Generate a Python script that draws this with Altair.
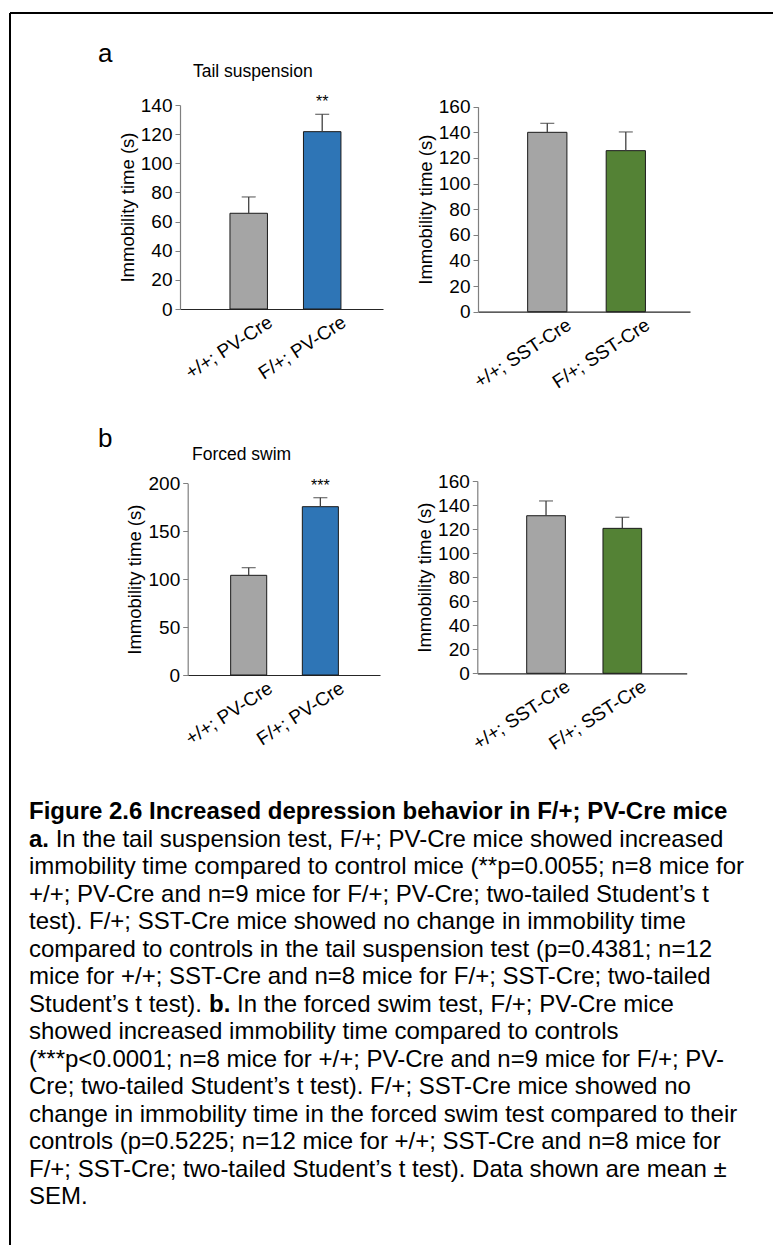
import altair as alt
import pandas as pd

FONT = "Liberation Sans"
W, H = 763, 1232  # plot area (view) size; padding puts origin at (10, 13)

# ---------------- data ----------------
tail_pv_groups = ["+/+; PV-Cre", "F/+; PV-Cre"]
tail_pv_mean = [65.7, 121.7]
tail_pv_sem = [11.2, 11.9]
tail_pv_sig = ["", "**"]
tail_pv_ticks = [0, 20, 40, 60, 80, 100, 120, 140]

tail_sst_groups = ["+/+; SST-Cre", "F/+; SST-Cre"]
tail_sst_mean = [140.0, 125.7]
tail_sst_sem = [7.0, 14.6]
tail_sst_sig = ["", ""]
tail_sst_ticks = [0, 20, 40, 60, 80, 100, 120, 140, 160]

swim_pv_groups = ["+/+; PV-Cre", "F/+; PV-Cre"]
swim_pv_mean = [104.0, 175.6]
swim_pv_sem = [8.0, 9.4]
swim_pv_sig = ["", "***"]
swim_pv_ticks = [0, 50, 100, 150, 200]

swim_sst_groups = ["+/+; SST-Cre", "F/+; SST-Cre"]
swim_sst_mean = [131.1, 120.6]
swim_sst_sem = [12.3, 9.2]
swim_sst_sig = ["", ""]
swim_sst_ticks = [0, 20, 40, 60, 80, 100, 120, 140, 160]

GRAY, BLUE, GREEN = "#A5A5A5", "#2E75B6", "#548235"

caption_lines = [
    "Figure 2.6 Increased depression behavior in F/+; PV-Cre mice",
    "In the tail suspension test, F/+; PV-Cre mice showed increased",
    "immobility time compared to control mice (**p=0.0055; n=8 mice for",
    "+/+; PV-Cre and n=9 mice for F/+; PV-Cre; two-tailed Student\u2019s t",
    "test). F/+; SST-Cre mice showed no change in immobility time",
    "compared to controls in the tail suspension test (p=0.4381; n=12",
    "mice for +/+; SST-Cre and n=8 mice for F/+; SST-Cre; two-tailed",
    "Student\u2019s t test).",
    "showed increased immobility time compared to controls",
    "(***p<0.0001; n=8 mice for +/+; PV-Cre and n=9 mice for F/+; PV-",
    "Cre; two-tailed Student\u2019s t test). F/+; SST-Cre mice showed no",
    "change in immobility time in the forced swim test compared to their",
    "controls (p=0.5225; n=12 mice for +/+; SST-Cre and n=8 mice for",
    "F/+; SST-Cre; two-tailed Student\u2019s t test). Data shown are mean \u00b1",
    "SEM.",
]
caption_extra = "In the forced swim test, F/+; PV-Cre mice"  # rest of line 7 after bold "b."

# ---------------- style / layout ----------------
AXIS_Y = dict(labelFontSize=19, labelColor="black", labelFont=FONT, tickSize=5,
              tickColor="#7F7F7F", domainColor="#7F7F7F", domainWidth=1.2,
              titleFontSize=18.5, titleFontWeight="normal", titleColor="black",
              titleFont=FONT, titlePadding=3, labelPadding=3, grid=False, format="d")
AXIS_X = dict(labelFontSize=19, labelColor="black", labelFont=FONT, labelAngle=-33,
              labelAlign="right", labelBaseline="middle", labelOffset=22,
              labelPadding=11, ticks=False, domainColor="#262626",
              domainWidth=1.2, grid=False, title=None, labelOverlap=False)


def panel(groups, means, sems, sig, fills, yticks, xr, yr, band):
    df = pd.DataFrame({
        "group": groups,
        "mean": means,
        "top": [m + s for m, s in zip(means, sems)],
        "sig": sig,
        "fill": fills,
    })

    def xsc():
        return alt.Scale(type="band", domain=groups, range=xr, paddingInner=band[0],
                         paddingOuter=band[1], align=band[2])

    def ysc():
        return alt.Scale(domain=[yticks[0], yticks[-1]], range=yr, nice=False)

    base = alt.Chart(df)
    bars = base.mark_bar(stroke="#1A1A1A", strokeWidth=1).encode(
        x=alt.X("group:N", scale=xsc(),
                axis=alt.Axis(orient="bottom", offset=yr[0] - H, **AXIS_X)),
        y=alt.Y("mean:Q", scale=ysc(),
                axis=alt.Axis(orient="left", offset=-xr[0], values=yticks,
                              title="Immobility time (s)", **AXIS_Y)),
        color=alt.Color("fill:N", scale=None),
    )
    err = base.mark_rule(color="#404040", strokeWidth=1.3).encode(
        x=alt.X("group:N", scale=xsc(), axis=None),
        y=alt.Y("mean:Q", scale=ysc(), axis=None), y2="top:Q")
    cap = base.mark_tick(color="#404040", size=14, thickness=1.3,
                         orient="horizontal").encode(
        x=alt.X("group:N", scale=xsc(), axis=None),
        y=alt.Y("top:Q", scale=ysc(), axis=None))
    stars = base.mark_text(fontSize=16, dy=-7, baseline="alphabetic", align="center",
                           font=FONT, color="black").encode(
        x=alt.X("group:N", scale=xsc(), axis=None),
        y=alt.Y("top:Q", scale=ysc(), axis=None), text="sig:N")
    return [bars, err, cap, stars]


panels = (
    panel(tail_pv_groups, tail_pv_mean, tail_pv_sem, tail_pv_sig, [GRAY, BLUE],
          tail_pv_ticks, [170, 373], [296, 92], (0.49, 0.626, 0.543))
    + panel(tail_sst_groups, tail_sst_mean, tail_sst_sem, tail_sst_sig, [GRAY, GREEN],
            tail_sst_ticks, [468, 680], [298.7, 93.7], (0.5, 0.6, 0.527))
    + panel(swim_pv_groups, swim_pv_mean, swim_pv_sem, swim_pv_sig, [GRAY, BLUE],
            swim_pv_ticks, [177.7, 370], [662, 470.3], (0.497, 0.59, 0.508))
    + panel(swim_sst_groups, swim_sst_mean, swim_sst_sem, swim_sst_sig, [GRAY, GREEN],
            swim_sst_ticks, [467.3, 676.7], [660.3, 468], (0.493, 0.619, 0.523))
)


def label(text, x, y, size, weight="normal"):
    return alt.Chart(pd.DataFrame({"t": [text]})).mark_text(
        fontSize=size, fontWeight=weight, align="left", baseline="alphabetic",
        font=FONT, color="black").encode(x=alt.value(x), y=alt.value(y), text="t:N")


labels = [
    label("a", 88, 49, 26),
    label("Tail suspension", 183, 64, 17.5),
    label("b", 88, 434, 26),
    label("Forced swim", 182, 447, 17.5),
]

one = pd.DataFrame({"k": [0]})
frame_top = alt.Chart(one).mark_rule(color="black", strokeWidth=2).encode(
    x=alt.value(0), x2=alt.value(W + 5), y=alt.value(0))
frame_left = alt.Chart(one).mark_rule(color="black", strokeWidth=2).encode(
    x=alt.value(0), y=alt.value(0), y2=alt.value(H + 5))

# caption
CAP_SIZE = 24
X0 = 19
normal_rows = []
bold_rows = []
for i, t in enumerate(caption_lines):
    if i == 0:
        bold_rows.append({"line": i, "xpos": X0, "text": t})
    elif i == 1:
        bold_rows.append({"line": i, "xpos": X0, "text": "a."})
        normal_rows.append({"line": i, "xpos": X0 + 26.7, "text": t})
    elif i == 7:
        normal_rows.append({"line": i, "xpos": X0, "text": t})
        bold_rows.append({"line": i, "xpos": X0 + 180.1, "text": "b."})
        normal_rows.append({"line": i, "xpos": X0 + 208.1, "text": caption_extra})
    else:
        normal_rows.append({"line": i, "xpos": X0, "text": t})


def cap_layer(rows, weight):
    return alt.Chart(pd.DataFrame(rows)).mark_text(
        fontSize=CAP_SIZE, fontWeight=weight, align="left", baseline="middle",
        font=FONT, color="black").encode(
        x=alt.X("xpos:Q", scale=None),
        y=alt.Y("line:Q", scale=alt.Scale(domain=[0, len(caption_lines) - 1],
                                          range=[799, 1184]), axis=None),
        text="text:N")


chart = alt.layer(
    *panels, frame_top, frame_left, *labels,
    cap_layer(normal_rows, "normal"), cap_layer(bold_rows, "bold"),
).resolve_scale(x="independent", y="independent").resolve_axis(
    x="independent", y="independent"
).properties(
    width=W, height=H,
    padding={"left": 10, "top": 13, "right": 0, "bottom": 0},
    autosize=alt.AutoSizeParams(type="none"),
    background="white",
).configure_view(stroke=None).configure(font=FONT)

chart.save("out.html", embed_options={"renderer": "svg", "actions": False})
